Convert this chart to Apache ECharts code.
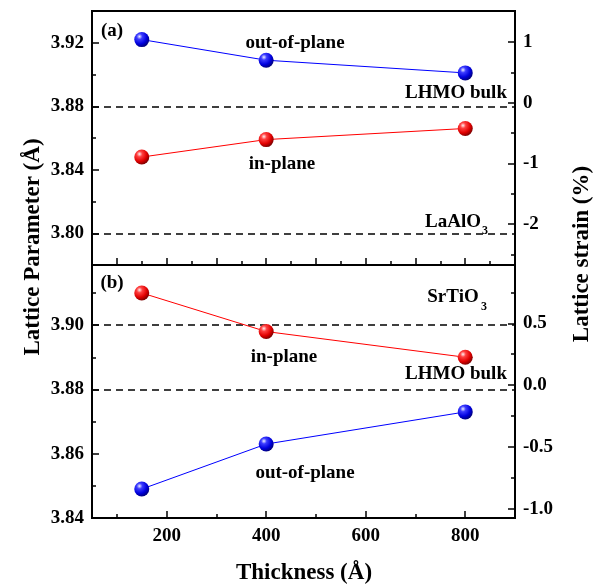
<!DOCTYPE html>
<html>
<head>
<meta charset="utf-8">
<script src="https://cdn.jsdelivr.net/npm/echarts@6.0.0/dist/echarts.min.js"></script>
<style>
  html, body { margin: 0; padding: 0; background: #fff; }
  #main { width: 600px; height: 588px; }
</style>
</head>
<body>
<div id="main"></div>
<script>
// 厚度 (Å)
var thickness = [150, 400, 800];
// (a) LaAlO3 衬底
var aOutPlane = [3.922, 3.909, 3.901];
var aInPlane = [3.848, 3.859, 3.866];
// (b) SrTiO3 衬底
var bInPlane = [3.910, 3.898, 3.890];
var bOutPlane = [3.849, 3.863, 3.873];
// 参考线
var aBulk = 3.8825, laAlO3 = 3.798;
var bBulk = 3.881, srTiO3 = 3.904;

// 刻度
var xTopMajor = [100, 200, 300, 400, 500, 600, 700, 800];
var xTopMinor = [150, 250, 350, 450, 550, 650, 750, 850];
var xBotMajor = [200, 400, 600, 800];
var xBotMinor = [100, 300, 500, 700];
var aLeftMajor = [3.80, 3.84, 3.88, 3.92];
var aLeftMinor = [3.82, 3.86, 3.90];
var aRightMajor = [-2, -1, 0, 1];
var aRightMinor = [-2.5, -1.5, -0.5, 0.5];
var bLeftMajor = [3.84, 3.86, 3.88, 3.90];
var bLeftMinor = [3.85, 3.87, 3.89, 3.91];
var bRightMajor = [-1.0, -0.5, 0.0, 0.5];
var bRightMinor = [-0.75, -0.25, 0.25, 0.75];

var font = 'Liberation Serif';

function ball(c0, c1, c2, c3) {
  return new echarts.graphic.RadialGradient(0.35, 0.3, 0.75, [
    { offset: 0, color: c0 },
    { offset: 0.25, color: c1 },
    { offset: 0.65, color: c2 },
    { offset: 1, color: c3 }
  ]);
}
var blueBall = ball('#eef0ff', '#3c3cff', '#0000dd', '#000070');
var redBall = ball('#fff0f0', '#ff4040', '#e00000', '#700000');

// 主刻度轴（带标签）
function axisMajor(type, grid, pos, min, max, ticks, fmt, showLabel) {
  return {
    type: 'value', gridIndex: grid, position: pos, min: min, max: max,
    axisLine: { show: true, onZero: false, lineStyle: { color: '#000', width: 2 } },
    axisTick: { show: true, inside: true, length: 7, customValues: ticks,
      lineStyle: { color: '#000', width: 1.5 } },
    axisLabel: { show: showLabel, customValues: ticks, formatter: fmt,
      color: '#000', fontFamily: font, fontSize: 19, fontWeight: 'bold',
      margin: type === 'x' ? 9 : 8 },
    splitLine: { show: false }
  };
}
// 次刻度轴（只画短刻度）
function axisMinor(grid, pos, min, max, ticks) {
  return {
    type: 'value', gridIndex: grid, position: pos, min: min, max: max,
    axisLine: { show: false, onZero: false },
    axisTick: { show: true, inside: true, length: 4, customValues: ticks,
      lineStyle: { color: '#000', width: 1.5 } },
    axisLabel: { show: false },
    splitLine: { show: false }
  };
}

var xMin = 50, xMax = 900;
var aMin = 3.78, aMax = 3.94, aSMin = -2.676, aSMax = 1.511;
var bMin = 3.84, bMax = 3.9187, bSMin = -1.073, bSMax = 0.971;

function dashLine(v) {
  return {
    silent: true, symbol: ['none', 'none'], label: { show: false },
    lineStyle: { color: '#000', type: [7, 5], width: 1.5 },
    data: v.map(function (y) { return { yAxis: y }; })
  };
}

function lineSeries(xi, yi, vals, color, fill, mark) {
  var s = {
    type: 'line', xAxisIndex: xi, yAxisIndex: yi,
    data: thickness.map(function (t, i) { return [t, vals[i]]; }),
    symbol: 'circle', symbolSize: 15,
    lineStyle: { color: color, width: 1 },
    itemStyle: { color: fill, borderWidth: 0 },
    z: 5
  };
  if (mark) s.markLine = mark;
  return s;
}

function txt(x, y, t, size, extra) {
  var o = {
    type: 'text', x: x, y: y, z: 20,
    style: { text: t, fill: '#000', font: 'bold ' + size + 'px "' + font + '"',
      textAlign: 'center', textVerticalAlign: 'middle' }
  };
  if (extra) Object.assign(o, extra);
  return o;
}

var chart = echarts.init(document.getElementById('main'));
var option = {
  animation: false,
  backgroundColor: '#fff',
  grid: [
    { left: 92, top: 11, width: 423, height: 254, show: true, borderColor: '#000', borderWidth: 2 },
    { left: 92, top: 265, width: 423, height: 253, show: true, borderColor: '#000', borderWidth: 2 }
  ],
  xAxis: [
    axisMajor('x', 0, 'bottom', xMin, xMax, xTopMajor, null, false),
    axisMinor(0, 'bottom', xMin, xMax, xTopMinor),
    axisMajor('x', 1, 'bottom', xMin, xMax, xBotMajor, '{value}', true),
    axisMinor(1, 'bottom', xMin, xMax, xBotMinor)
  ],
  yAxis: [
    axisMajor('y', 0, 'left', aMin, aMax, aLeftMajor, function (v) { return v.toFixed(2); }, true),
    axisMinor(0, 'left', aMin, aMax, aLeftMinor),
    axisMajor('y', 0, 'right', aSMin, aSMax, aRightMajor, function (v) { return v.toFixed(0); }, true),
    axisMinor(0, 'right', aSMin, aSMax, aRightMinor),
    axisMajor('y', 1, 'left', bMin, bMax, bLeftMajor, function (v) { return v.toFixed(2); }, true),
    axisMinor(1, 'left', bMin, bMax, bLeftMinor),
    axisMajor('y', 1, 'right', bSMin, bSMax, bRightMajor, function (v) { return v.toFixed(1); }, true),
    axisMinor(1, 'right', bSMin, bSMax, bRightMinor)
  ],
  series: [
    lineSeries(0, 0, aOutPlane, '#0000ff', blueBall, dashLine([aBulk, laAlO3])),
    lineSeries(0, 0, aInPlane, '#ff0000', redBall),
    lineSeries(2, 4, bInPlane, '#ff0000', redBall, dashLine([bBulk, srTiO3])),
    lineSeries(2, 4, bOutPlane, '#0000ff', blueBall)
  ],
  graphic: [
    txt(112, 31, '(a)', 19),
    txt(112, 283, '(b)', 19),
    txt(295, 43, 'out-of-plane', 19),
    txt(456, 93, 'LHMO bulk', 19),
    txt(282, 164, 'in-plane', 19),
    txt(453, 222, 'LaAlO', 19),
    txt(485, 231, '3', 12),
    txt(453, 297, 'SrTiO', 19),
    txt(484, 307, '3', 12),
    txt(284, 357, 'in-plane', 19),
    txt(456, 374, 'LHMO bulk', 19),
    txt(305, 473, 'out-of-plane', 19),
    txt(33, 247, 'Lattice Parameter (Å)', 23, { rotation: Math.PI / 2 }),
    txt(582, 254, 'Lattice strain (%)', 23, { rotation: Math.PI / 2 }),
    txt(304, 573, 'Thickness (Å)', 23)
  ]
};
chart.setOption(option);
</script>
</body>
</html>
